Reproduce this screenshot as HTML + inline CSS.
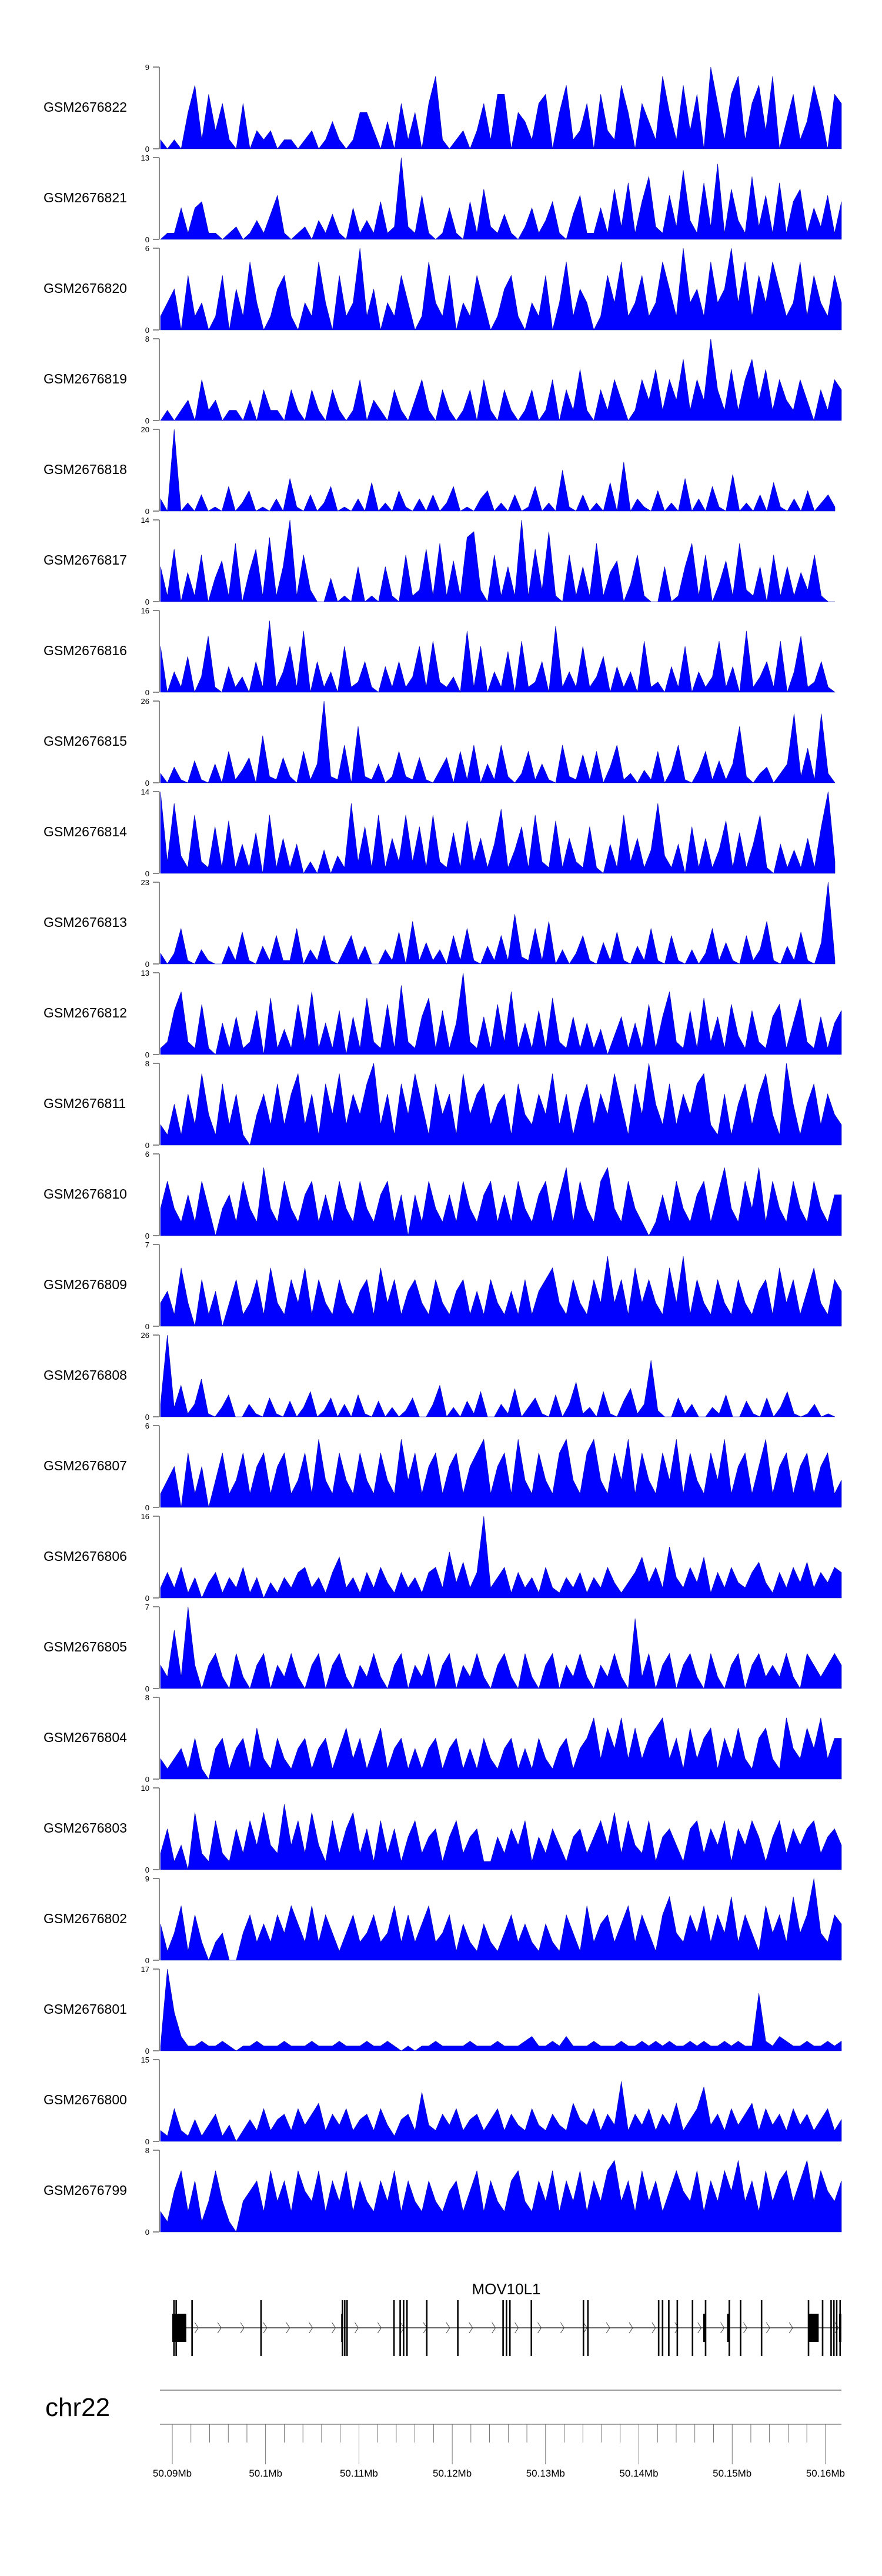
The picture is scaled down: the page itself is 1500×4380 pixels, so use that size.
<!DOCTYPE html>
<html><head><meta charset="utf-8"><title>Coverage tracks MOV10L1</title>
<style>
html,body{margin:0;padding:0;background:#fff;}
svg{display:block;font-family:"Liberation Sans",Arial,sans-serif;}
</style></head>
<body>
<svg id="chart" width="1500" height="4380" viewBox="0 0 1500 4380" xmlns="http://www.w3.org/2000/svg">
<g id="tracks"></g>
<g id="gene"></g>
<g id="axis"></g>
</svg>
<script>
const sampleNames = ["GSM2676822","GSM2676821","GSM2676820","GSM2676819","GSM2676818","GSM2676817","GSM2676816","GSM2676815","GSM2676814","GSM2676813","GSM2676812","GSM2676811","GSM2676810","GSM2676809","GSM2676808","GSM2676807","GSM2676806","GSM2676805","GSM2676804","GSM2676803","GSM2676802","GSM2676801","GSM2676800","GSM2676799"];
const sampleMax = [9,13,6,8,20,14,16,26,14,23,13,8,6,7,26,6,16,7,8,10,9,17,15,8];
const cov822 = [1,0,1,0,4,7,1,6,2,5,1,0,5,0,2,1,2,0,1,1,0,1,2,0,1,3,1,0,1,4,4,2,0,3,0,5,1,4,0,5,8,1,0,1,2,0,2,5,1,6,6,0,4,3,1,5,6,0,4,7,1,2,5,0,6,2,1,7,4,0,5,3,1,8,4,1,7,2,6,0,9,5,1,6,8,1,5,7,2,8,0,3,6,1,3,7,4,0,6,5];
const cov821 = [0,1,1,5,1,5,6,1,1,0,1,2,0,1,3,1,4,7,1,0,1,2,0,3,1,4,1,0,5,1,3,1,6,1,2,13,2,1,7,1,0,1,5,1,0,6,1,8,2,1,4,1,0,2,5,1,3,6,1,0,4,7,1,1,5,1,8,2,9,1,6,10,2,1,7,2,11,3,1,9,2,12,1,8,3,1,10,2,7,1,9,1,6,8,1,5,2,7,1,6];
const cov820 = [1,2,3,0,4,1,2,0,1,4,0,3,1,5,2,0,1,3,4,1,0,2,1,5,2,0,4,1,2,6,1,3,0,2,1,4,2,0,1,5,2,1,4,0,2,1,4,2,0,1,3,4,1,0,2,1,4,0,2,5,1,3,2,0,1,4,2,5,1,2,4,1,2,5,3,1,6,2,3,1,5,2,3,6,2,5,1,4,2,5,3,1,2,5,1,4,2,1,4,2];
const cov819 = [0,1,0,1,2,0,4,1,2,0,1,1,0,2,0,3,1,1,0,3,1,0,3,1,0,3,1,0,1,4,0,2,1,0,3,1,0,2,4,1,0,3,1,0,1,3,0,4,1,0,3,1,0,1,3,0,1,4,0,3,1,5,1,0,3,1,4,2,0,1,4,2,5,1,4,2,6,1,4,2,8,3,1,5,1,4,6,2,5,1,4,2,1,4,2,0,3,1,4,3];
const cov818 = [3,0,20,0,2,0,4,0,1,0,6,0,2,5,0,1,0,3,0,8,1,0,4,0,2,6,0,1,0,3,0,7,0,2,0,5,1,0,3,0,4,0,2,6,0,1,0,3,5,0,2,0,4,0,1,6,0,2,0,10,1,0,4,0,2,0,7,0,12,0,3,1,0,5,0,2,0,8,0,3,0,6,1,0,9,0,2,0,4,0,7,1,0,3,0,5,0,2,4,1];
const cov817 = [6,1,9,0,5,1,8,0,4,7,1,10,0,5,9,1,11,1,6,14,1,8,2,0,0,4,0,1,0,6,0,1,0,6,1,0,8,1,2,9,1,10,1,7,1,11,12,2,0,8,1,6,1,14,1,9,2,12,1,0,8,1,6,1,10,1,5,7,0,3,8,1,0,0,6,0,1,6,10,1,8,0,3,7,1,10,2,1,6,0,8,1,6,1,5,2,8,1,0,0];
const cov816 = [9,0,4,1,7,0,3,11,1,0,5,1,3,0,6,1,14,1,4,9,1,12,0,6,1,4,0,9,1,2,6,1,0,5,1,6,1,3,9,1,10,2,1,3,0,12,1,9,0,4,1,8,0,10,1,2,6,0,13,1,4,1,9,1,3,7,0,5,1,4,0,10,1,2,0,5,1,9,0,4,1,3,10,1,5,0,12,1,3,6,1,10,0,4,11,1,2,6,1,0];
const cov815 = [3,0,5,1,0,7,1,0,6,0,10,1,4,8,0,15,2,1,8,2,0,10,1,6,26,2,1,12,0,18,2,1,6,0,2,10,2,1,8,1,0,4,8,0,10,1,12,0,6,1,12,2,0,3,10,1,6,1,0,12,2,1,9,1,10,0,5,12,1,3,0,4,1,10,0,4,12,1,0,4,10,1,7,1,6,18,2,0,3,5,0,3,6,22,2,11,1,22,3,0];
const cov814 = [14,2,12,3,1,10,2,1,8,1,9,1,5,1,7,0,10,1,6,1,5,0,2,0,4,0,3,1,12,2,8,1,10,1,6,2,10,2,8,1,10,2,1,7,1,9,2,6,1,5,11,1,4,8,1,10,2,1,9,1,6,2,1,8,1,0,5,1,10,2,6,1,4,12,3,1,5,0,8,1,6,1,4,9,1,7,1,5,10,1,0,5,1,4,1,6,1,8,14,2];
const cov813 = [3,0,3,10,1,0,4,1,0,0,5,1,9,1,0,5,1,8,1,1,10,0,4,1,8,1,0,4,8,1,5,0,0,4,1,9,0,12,1,6,1,4,0,8,1,10,1,0,5,1,8,1,14,2,1,10,1,12,0,4,0,3,8,1,0,6,1,9,1,0,5,1,10,1,0,8,1,0,4,0,3,10,1,6,1,0,8,1,4,12,1,0,5,1,9,1,0,6,23,1];
const cov812 = [1,2,7,10,2,1,8,1,0,5,1,6,1,2,7,0,9,1,4,1,8,2,10,1,5,1,7,0,6,1,9,2,1,8,1,11,2,1,6,9,1,7,1,5,13,2,1,6,1,8,2,10,1,5,1,7,1,9,2,1,6,1,5,1,4,0,3,6,1,5,1,8,1,6,10,2,1,7,1,9,2,6,1,8,3,1,7,2,1,6,8,1,5,9,2,1,6,1,5,7];
const cov811 = [2,1,4,1,5,2,7,3,1,6,2,5,1,0,3,5,2,6,2,5,7,2,5,1,6,3,7,2,5,3,6,8,2,5,1,6,3,7,4,1,6,3,5,1,7,3,5,6,2,4,5,1,6,3,2,5,3,7,2,5,1,4,6,2,5,3,7,4,1,6,3,8,4,2,6,2,5,3,6,7,2,1,5,1,4,6,2,5,7,3,1,8,4,1,4,6,2,5,3,2];
const cov810 = [2,4,2,1,3,1,4,2,0,2,3,1,4,2,1,5,2,1,4,2,1,3,4,1,3,1,4,2,1,4,2,1,3,4,1,3,0,3,1,4,2,1,3,1,4,2,1,3,4,1,3,1,4,2,1,3,4,1,3,5,1,4,2,1,4,5,2,1,4,2,1,0,1,3,1,4,2,1,3,4,1,3,5,2,1,4,2,5,1,4,2,1,4,2,1,4,2,1,3,3];
const cov809 = [2,3,1,5,2,0,4,1,3,0,2,4,1,2,4,1,5,2,1,4,2,5,1,4,2,1,4,2,1,3,4,1,5,2,4,1,3,4,2,1,4,2,1,3,4,1,3,1,4,2,1,3,1,4,1,3,4,5,2,1,4,2,1,4,2,6,2,4,1,5,2,4,2,1,5,2,6,1,4,2,1,4,2,1,4,2,1,3,4,1,5,2,4,1,3,5,2,1,4,3];
const cov808 = [4,26,3,10,1,4,12,1,0,3,7,0,0,4,1,0,6,1,0,5,0,3,8,0,2,6,0,4,0,7,1,0,5,0,3,0,2,6,0,0,4,10,0,3,0,5,1,8,0,0,4,1,9,0,3,6,1,0,7,0,4,11,1,3,0,8,1,0,5,9,1,4,18,2,0,0,6,1,4,0,0,3,1,7,0,0,5,1,0,6,0,3,8,1,0,1,4,0,1,0];
const cov807 = [1,2,3,0,4,1,3,0,2,4,1,2,4,1,3,4,1,3,4,1,2,4,1,5,2,1,4,2,1,4,2,1,4,2,1,5,2,4,1,3,4,1,3,4,1,3,4,5,1,3,4,1,5,2,1,4,2,1,4,5,2,1,4,5,2,1,4,2,5,1,4,2,1,4,2,5,1,4,2,1,4,2,5,1,3,4,1,3,5,1,3,4,1,3,4,1,3,4,1,2];
const cov806 = [2,5,2,6,1,4,0,3,5,1,4,2,6,1,4,0,3,1,4,2,5,6,2,4,1,5,8,2,4,1,5,2,6,3,1,5,2,4,1,5,6,2,9,3,7,2,5,16,2,4,6,1,5,2,4,1,6,2,1,4,2,5,1,4,2,6,3,1,3,5,8,3,6,2,10,4,2,6,3,8,1,5,2,6,3,2,5,7,3,1,5,2,6,3,7,2,5,3,6,5];
const cov805 = [2,1,5,1,7,2,0,2,3,1,0,3,1,0,2,3,0,2,1,3,1,0,2,3,0,2,3,1,0,2,1,3,1,0,2,3,0,2,1,3,0,2,3,0,2,1,3,1,0,2,3,1,0,3,1,0,2,3,0,2,1,3,1,0,2,1,3,1,0,6,1,3,0,2,3,0,2,3,1,0,3,1,0,2,3,0,2,3,1,2,1,3,1,0,3,2,1,2,3,2];
const cov804 = [2,1,2,3,1,4,1,0,3,4,1,3,4,1,5,2,1,4,2,1,3,4,1,3,4,1,3,5,2,4,1,3,5,1,3,4,1,3,1,3,4,1,3,4,1,3,1,4,2,1,3,4,1,3,1,4,2,1,3,4,1,3,4,6,2,5,3,6,2,5,2,4,5,6,2,4,1,5,2,4,5,1,4,2,5,2,1,4,5,2,1,6,3,2,5,3,6,2,4,4];
const cov803 = [2,5,1,3,0,7,2,1,6,2,1,5,2,6,3,7,3,2,8,3,6,2,7,3,1,6,2,5,7,2,5,1,6,2,5,1,4,6,2,4,5,1,4,6,2,4,5,1,1,4,2,5,3,6,1,4,2,5,3,1,4,5,2,4,6,3,7,2,6,3,2,6,1,4,5,3,1,5,6,2,5,3,6,1,5,3,6,4,1,4,6,2,5,3,5,6,2,4,5,3];
const cov802 = [4,1,3,6,1,5,2,0,2,3,0,0,3,5,2,4,2,5,3,6,4,2,6,2,5,3,1,3,5,2,3,5,2,3,6,2,5,2,4,6,2,3,5,1,4,2,1,4,2,1,3,5,2,4,2,1,4,2,1,5,3,1,6,2,4,5,2,4,6,2,5,3,1,5,7,3,2,5,3,6,2,5,3,7,2,5,3,1,6,3,5,2,7,3,5,9,3,2,5,4];
const cov801 = [1,17,8,3,1,1,2,1,1,2,1,0,1,1,2,1,1,1,2,1,1,1,2,1,1,1,2,1,1,1,2,1,1,2,1,0,1,0,1,1,2,1,1,1,1,2,1,1,1,2,1,1,1,2,3,1,1,2,1,3,1,1,1,2,1,1,1,2,1,1,2,1,2,1,2,1,1,2,1,2,1,1,2,1,2,1,1,12,2,1,3,2,1,1,2,1,1,2,1,2];
const cov800 = [2,1,6,2,1,4,1,3,5,1,3,0,2,4,2,6,2,4,5,2,6,3,5,7,2,5,3,6,2,4,5,2,6,3,1,4,5,2,9,3,2,5,3,6,2,4,5,2,4,6,2,5,3,2,6,3,2,5,3,2,7,4,3,6,2,5,3,11,2,5,3,6,2,5,3,7,2,4,6,10,3,5,2,6,3,5,7,2,6,3,5,2,6,3,5,2,4,6,2,4];
const cov799 = [2,1,4,6,2,5,1,3,6,3,1,0,3,4,5,2,6,3,5,2,6,4,3,6,2,5,3,6,2,5,3,2,5,3,6,2,5,3,2,5,3,2,4,5,2,4,6,2,5,3,2,5,6,3,2,5,3,6,2,5,3,6,2,5,3,6,7,3,5,2,6,3,5,2,4,6,4,3,6,2,5,3,6,4,7,3,5,2,6,3,5,6,3,5,7,3,6,4,3,5];
const coverage = [cov822,cov821,cov820,cov819,cov818,cov817,cov816,cov815,cov814,cov813,cov812,cov811,cov810,cov809,cov808,cov807,cov806,cov805,cov804,cov803,cov802,cov801,cov800,cov799];
const sparseFlags = [0,0,0,0,1,1,1,1,1,1,0,0,0,0,1,0,0,0,0,0,0,0,0,0];

const exonKb = [0.18,0.42,2.12,9.51,18.24,18.48,18.73,23.76,24.42,24.79,25.15,27.27,30.6,35.45,35.81,36.18,38.48,44.06,44.54,52.12,52.54,53.21,54.12,55.75,57.15,59.69,60.9,63.15,68.18,69.69,70.6,70.9,71.2,71.57];
const thickStartKb = [0,18.1,56.9,59.45,68.18,71.45];
const thickEndKb = [1.5,18.3,57.2,59.7,69.27,71.7];
const axisTicksMb = [50.09,50.10,50.11,50.12,50.13,50.14,50.15,50.16];
const axisTickLabels = ["50.09Mb","50.1Mb","50.11Mb","50.12Mb","50.13Mb","50.14Mb","50.15Mb","50.16Mb"];

const NS = "http://www.w3.org/2000/svg";
function mk(tag, attrs, parent){const e=document.createElementNS(NS,tag);for(const k in attrs)e.setAttribute(k,attrs[k]);parent.appendChild(e);return e;}

const plotLeft = 271, plotRight = 1431, trackTop0 = 114, trackPitch = 154, trackH = 139;
const tracksG = document.getElementById('tracks');
coverage.forEach((vals, i) => {
  const top = trackTop0 + i*trackPitch, bot = top + trackH, maxV = sampleMax[i];
  const right = sparseFlags[i] ? 1420 : plotRight;
  const x = k => plotLeft + 2 + k*(right - plotLeft - 2)/(vals.length-1);
  const y = v => bot - (v/maxV)*trackH;
  const g = mk('g', {}, tracksG);
  
  
  const lbl = mk('text', {x:74, y:top+76, 'font-size':23, fill:'#000'}, g);
  lbl.textContent = sampleNames[i];
  
  
  const ax = mk('path', {d:`M${plotLeft} ${top}V${bot}M${plotLeft} ${top}H${plotLeft-11}M${plotLeft} ${bot}H${plotLeft-11}`, stroke:'#888', 'stroke-width':2, fill:'none'}, g);
  
  
  const t1 = mk('text', {x:plotLeft-17, y:top+5, 'font-size':13, 'text-anchor':'end', fill:'#000'}, g);
  t1.textContent = String(maxV);
  
  
  const t0 = mk('text', {x:plotLeft-17, y:bot+5, 'font-size':13, 'text-anchor':'end', fill:'#000'}, g);
  t0.textContent = '0';
  
  
  let d = `M${x(0)} ${bot}`;
  vals.forEach((v,k) => { d += `L${x(k).toFixed(1)} ${y(v).toFixed(1)}`; });
  d += `L${x(vals.length-1)} ${bot}Z`;
  const area = mk('path', {d, fill:'#0000ff', stroke:'#0000b0', 'stroke-width':0.6}, g);
  
  
});

// gene model
const geneG = document.getElementById('gene');
const gx = kb => 293 + kb*15.87;
const glbl = mk('text', {x:861, y:3901, 'font-size':26, 'text-anchor':'middle', fill:'#000'}, geneG);
glbl.textContent = 'MOV10L1';


const intron = mk('line', {x1:gx(0), x2:gx(71.7), y1:3958, y2:3958, stroke:'#333', 'stroke-width':1.5}, geneG);


for (let kb = 2.6; kb < 71.5; kb += 2.45) {
  const cx = gx(kb);
  const ch = mk('path', {d:`M${cx-3} 3949L${cx+3} 3958L${cx-3} 3967`, stroke:'#444', 'stroke-width':1, fill:'none'}, geneG);
  
  
}
exonKb.forEach(kb => {
  const ex = mk('rect', {x:gx(kb)-1.3, y:3911, width:2.6, height:95, fill:'#000'}, geneG);
  
  
});
thickStartKb.forEach((s,i) => {
  const r = mk('rect', {x:gx(s), y:3934, width:Math.max(3, gx(thickEndKb[i])-gx(s)), height:48, fill:'#000'}, geneG);
  
  
});

// genome axis
const axG = document.getElementById('axis');
const mx = mb => 293 + (mb-50.09)*15870;
const chr = mk('text', {x:77, y:4108, 'font-size':44, fill:'#000'}, axG);
chr.textContent = 'chr22';


const ideo = mk('line', {x1:272, x2:1431, y1:4064, y2:4064, stroke:'#999', 'stroke-width':2}, axG);


const base = mk('line', {x1:272, x2:1431, y1:4122, y2:4122, stroke:'#888', 'stroke-width':1.5}, axG);


for (let k = 0; k <= 35; k++) {
  const mb = 50.09 + k*0.002;
  const major = k % 5 === 0;
  const t = mk('line', {x1:mx(mb), x2:mx(mb), y1:4122, y2: major ? 4190 : 4153, stroke:'#555', 'stroke-width':0.8}, axG);
  
  
}
axisTicksMb.forEach((mb,i) => {
  const t = mk('text', {x:mx(mb), y:4211, 'font-size':17, 'text-anchor':'middle', fill:'#000'}, axG);
  t.textContent = axisTickLabels[i];
  
  
});
</script>
</body></html>
